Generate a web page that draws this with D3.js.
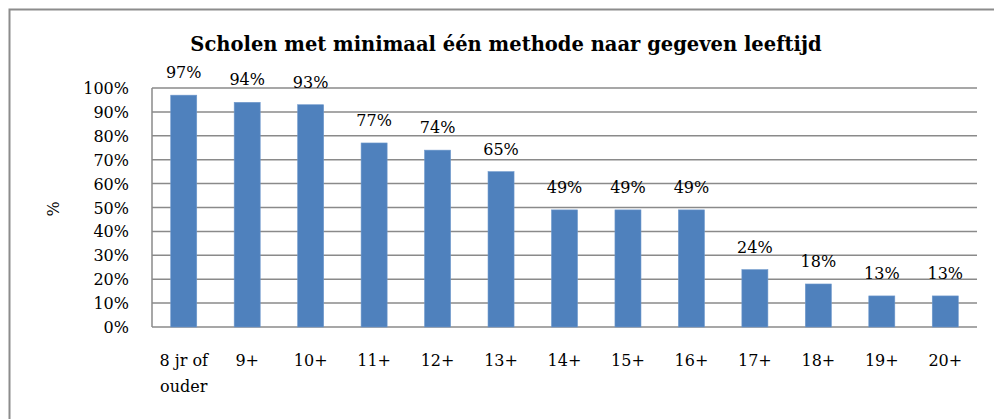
<!DOCTYPE html>
<html>
<head>
<meta charset="utf-8">
<script src="https://cdn.jsdelivr.net/npm/d3@7"></script>
<style>
  body { margin: 0; background: #fff; }
</style>
</head>
<body>
<div id="chart"></div>
<script>
var width = 994, height = 419;

var categories = ["8 jr of ouder", "9+", "10+", "11+", "12+", "13+", "14+", "15+", "16+", "17+", "18+", "19+", "20+"];
var values = [97, 94, 93, 77, 74, 65, 49, 49, 49, 24, 18, 13, 13];
var yTicks = [0, 10, 20, 30, 40, 50, 60, 70, 80, 90, 100];
var title = "Scholen met minimaal één methode naar gegeven leeftijd";

var margin = {left: 152, right: 17, top: 88, bottom: 92};
var font = "DejaVu Serif";

var svg = d3.select("#chart")
    .append("svg")
      .attr("width", width)
      .attr("height", height)
      .style("display", "block")
      .style("font-family", font);

// outer frame (runs off right and bottom edges)
svg.append("rect")
    .attr("x", 9.5).attr("y", 9.5)
    .attr("width", 1100).attr("height", 500)
    .attr("fill", "none")
    .attr("stroke", "#8c8c8c")
    .attr("stroke-width", 2);

var x = d3.scaleBand()
    .domain(categories)
    .range([margin.left, width - margin.right])
    .paddingInner(0.59)
    .paddingOuter(0.295);

var y = d3.scaleLinear()
    .domain([0, 100])
    .range([height - margin.bottom, margin.top]);

// gridlines
svg.append("g")
  .selectAll("line")
    .data(yTicks)
  .enter().append("line")
    .attr("x1", margin.left)
    .attr("x2", width - margin.right)
    .attr("y1", function(d) { return y(d); })
    .attr("y2", function(d) { return y(d); })
    .attr("stroke", "#8a8a8a")
    .attr("stroke-width", 1.5);

// left axis line
svg.append("line")
    .attr("x1", margin.left).attr("x2", margin.left)
    .attr("y1", y(100)).attr("y2", y(0))
    .attr("stroke", "#8a8a8a")
    .attr("stroke-width", 1.5);

// y tick labels
svg.append("g")
  .selectAll("text")
    .data(yTicks)
  .enter().append("text")
    .attr("x", 129)
    .attr("y", function(d) { return y(d) + 6; })
    .attr("text-anchor", "end")
    .attr("font-size", 16)
    .text(function(d) { return d + "%"; });

// bars
svg.append("g")
  .selectAll("rect")
    .data(values)
  .enter().append("rect")
    .attr("x", function(d, i) { return x(categories[i]); })
    .attr("y", function(d) { return y(d); })
    .attr("width", x.bandwidth())
    .attr("height", function(d) { return y(0) - y(d); })
    .attr("fill", "#4f81bd")
    .attr("stroke", "#6e98cc")
    .attr("stroke-width", 0.6);

// value labels
svg.append("g")
  .selectAll("text")
    .data(values)
  .enter().append("text")
    .attr("x", function(d, i) { return x(categories[i]) + x.bandwidth() / 2; })
    .attr("y", function(d) { return y(d) - 17; })
    .attr("text-anchor", "middle")
    .attr("font-size", 16)
    .text(function(d) { return d + "%"; });

// x labels
svg.append("g")
  .selectAll("text")
    .data(categories)
  .enter().append("text")
    .attr("x", function(d) { return x(d) + x.bandwidth() / 2; })
    .attr("y", 366)
    .attr("text-anchor", "middle")
    .attr("font-size", 16)
    .each(function(d) {
      var lines = d === "8 jr of ouder" ? ["8 jr of", "ouder"] : [d];
      var t = d3.select(this);
      lines.forEach(function(l, i) {
        t.append("tspan")
          .attr("x", t.attr("x"))
          .attr("dy", i === 0 ? 0 : 26)
          .text(l);
      });
    });

// y axis title
svg.append("text")
    .attr("transform", "translate(59,209) rotate(-90)")
    .attr("text-anchor", "middle")
    .attr("font-size", 16)
    .text("%");

// chart title
svg.append("text")
    .attr("x", 506)
    .attr("y", 51)
    .attr("text-anchor", "middle")
    .attr("font-size", 19.5)
    .attr("font-weight", "bold")
    .text(title);
</script>
</body>
</html>
